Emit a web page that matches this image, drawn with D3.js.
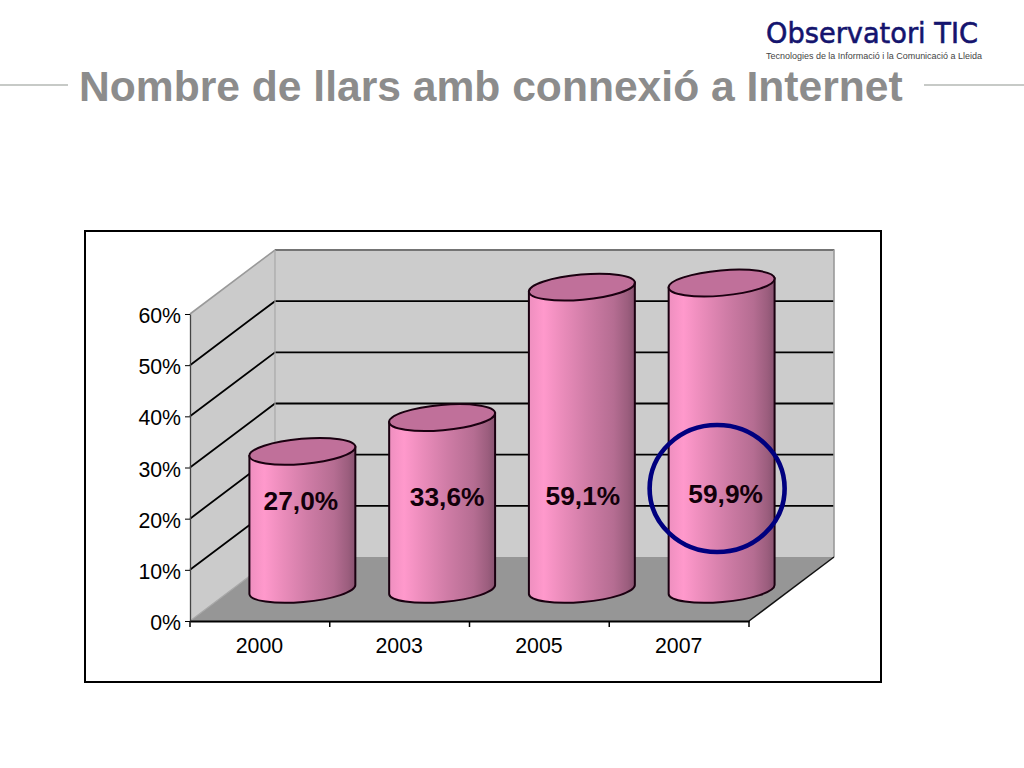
<!DOCTYPE html>
<html><head><meta charset="utf-8">
<script src="https://cdn.jsdelivr.net/npm/d3@7"></script>
<style>html,body{margin:0;padding:0;background:#fff}svg{display:block}text{font-family:"Liberation Sans",Arial,sans-serif}</style>
</head><body><svg id="c" width="1024" height="768"></svg>
<script>
const categories = ["2000","2003","2005","2007"];
const values = [27.0,33.6,59.1,59.9];
const valueLabels = ["27,0%","33,6%","59,1%","59,9%"];
const yTicks = [0,10,20,30,40,50,60];
const titleText = "Nombre de llars amb connexió a Internet";
const logoText = "Observatori TIC";
const logoSub = "Tecnologies de la Informació i la Comunicació a Lleida";

const labelDx = [-1.5,5,1,4], labelY = [510,506,505,503];
const svg = d3.select("#c");
const x = d3.scaleBand().domain(categories).range([190,749]).padding(0);
const y = d3.scaleLinear().domain([0,60]).range([621,314]);
const depthX = 85, depthY = 64;

const grad = svg.append("defs").append("linearGradient").attr("id","cyl");
[[0,"#ee8fbf"],[.14,"#ff99cc"],[.3,"#ec8dbc"],[.55,"#cf7ca6"],[.8,"#b56d92"],[.93,"#9c5e7e"],[1,"#875270"]]
  .forEach(s=>grad.append("stop").attr("offset",s[0]).attr("stop-color",s[1]));

// header
svg.append("text").attr("x",79).attr("y",101).attr("font-size",42.6).attr("font-weight","bold").attr("fill","#8c8c8c").text(titleText);
svg.append("g").selectAll("line").data([[0,68],[924,1024]]).join("line")
  .attr("x1",d=>d[0]).attr("x2",d=>d[1]).attr("y1",85).attr("y2",85).attr("stroke","#b4b8b4").attr("stroke-width",1.3);
svg.append("text").attr("x",766).attr("y",43).attr("font-size",29).attr("textLength",212).attr("lengthAdjust","spacingAndGlyphs")
  .attr("fill","#14146e").attr("stroke","#14146e").attr("stroke-width",0.6).style("font-family","'DejaVu Sans'").text(logoText);
svg.append("text").attr("x",766).attr("y",59).attr("font-size",8.8).attr("textLength",216).attr("lengthAdjust","spacingAndGlyphs")
  .attr("fill","#444").text(logoSub);

// frame
svg.append("rect").attr("x",85).attr("y",231).attr("width",796).attr("height",451).attr("fill","#fff").attr("stroke","#000").attr("stroke-width",2);

// walls & floor
const x0=x.range()[0], x1=x.range()[1], y0=y(0), yT=y(60);
svg.append("path").attr("d",`M${x0},${y0}L${x0},${yT}L${x0+depthX},${yT-depthY}L${x0+depthX},${y0-depthY}Z`).attr("fill","#cbcbcb");
svg.append("rect").attr("x",x0+depthX).attr("y",yT-depthY).attr("width",x1-x0).attr("height",y0-yT).attr("fill","#cccccc");
svg.append("path").attr("d",`M${x0},${y0}L${x0+depthX},${y0-depthY}L${x1+depthX},${y0-depthY}L${x1},${y0}Z`).attr("fill","#969696");
// gridlines
svg.append("g").selectAll("path").data(yTicks.slice(1,-1).concat([60])).join("path")
  .attr("d",d=>d===60?`M${x0+depthX},${y(d)-depthY}H${x1+depthX}`:`M${x0},${y(d)}L${x0+depthX},${y(d)-depthY}H${x1+depthX}`)
  .attr("fill","none").attr("stroke","#000").attr("stroke-width",1.8);
// wall edges
svg.append("path").attr("d",`M${x0},${yT}L${x0+depthX},${yT-depthY}H${x1+depthX}V${y0-depthY}`).attr("fill","none").attr("stroke","#9a9a9a").attr("stroke-width",1.6);
svg.append("path").attr("d",`M${x0+depthX},${yT-depthY}V${y0-depthY}L${x0},${y0}`).attr("fill","none").attr("stroke","#a8a8a8").attr("stroke-width",1.2);
svg.append("path").attr("d",`M${x1},${y0}L${x1+depthX},${y0-depthY}`).attr("fill","none").attr("stroke","#111").attr("stroke-width",1.5);

// axes
const axL = svg.append("g").attr("transform",`translate(${x0},0)`)
  .call(d3.axisLeft(y).tickValues(yTicks).tickFormat(d=>d+"%").tickSize(5).tickSizeOuter(0));
axL.select(".domain").attr("stroke","#444").attr("stroke-width",1.3);
axL.selectAll("text").attr("font-size",21.3).attr("fill","#000").attr("dx",-1).attr("dy","0.4em").style("font-family","'Liberation Sans'");
const axB = svg.append("g").attr("transform",`translate(0,${y0})`)
  .call(d3.axisBottom(x).tickSize(0).tickSizeOuter(0));
axB.select(".domain").attr("stroke","#000").attr("stroke-width",2);
axB.selectAll("text").attr("font-size",21.3).attr("fill","#000").attr("dy",29).attr("dx",-0.5).style("font-family","'Liberation Sans'");
svg.append("g").selectAll("line").data(d3.range(categories.length+1)).join("line")
  .attr("x1",i=>x0+i*x.step()).attr("x2",i=>x0+i*x.step()).attr("y1",y0).attr("y2",y0+6).attr("stroke","#000").attr("stroke-width",1.5);

// cylinders
const rx = x.step()*0.379, ry = 12.6, rot = -5, eY = 4.6, baseShift = 31.5;
const g = svg.append("g").selectAll("g").data(categories).join("g");
g.each(function(c,i){
  const s = d3.select(this), cx = x(c)+x.bandwidth()/2+depthX/2;
  const yb = y(0)-baseShift, yt = y(values[i])-baseShift;
  const l = cx-rx, r = cx+rx;
  s.append("path").attr("d",`M${l},${yt+eY}L${l},${yb+eY}A${rx+.2},${ry} ${rot} 0 0 ${r},${yb-eY}L${r},${yt-eY}Z`)
    .attr("fill","url(#cyl)").attr("stroke","#1a0010").attr("stroke-width",2);
  s.append("path").attr("d",`M${l},${yt+eY}A${rx+.2},${ry} ${rot} 1 0 ${r},${yt-eY}A${rx+.2},${ry} ${rot} 1 0 ${l},${yt+eY}Z`)
    .attr("fill","#c0709a").attr("stroke","#1a0010").attr("stroke-width",2);
  s.append("text").attr("x",cx+labelDx[i]).attr("y",labelY[i]).attr("text-anchor","middle")
    .attr("font-size",26.3).attr("font-weight","bold").attr("fill","#12000a").text(valueLabels[i]);
});

// highlight circle around last bar
svg.append("ellipse").attr("cx",x(categories[3])+x.bandwidth()/2+depthX/2-4.5).attr("cy",488.5).attr("rx",67.5).attr("ry",63.5)
  .attr("fill","none").attr("stroke","#00007f").attr("stroke-width",4.6);
</script></body></html>
